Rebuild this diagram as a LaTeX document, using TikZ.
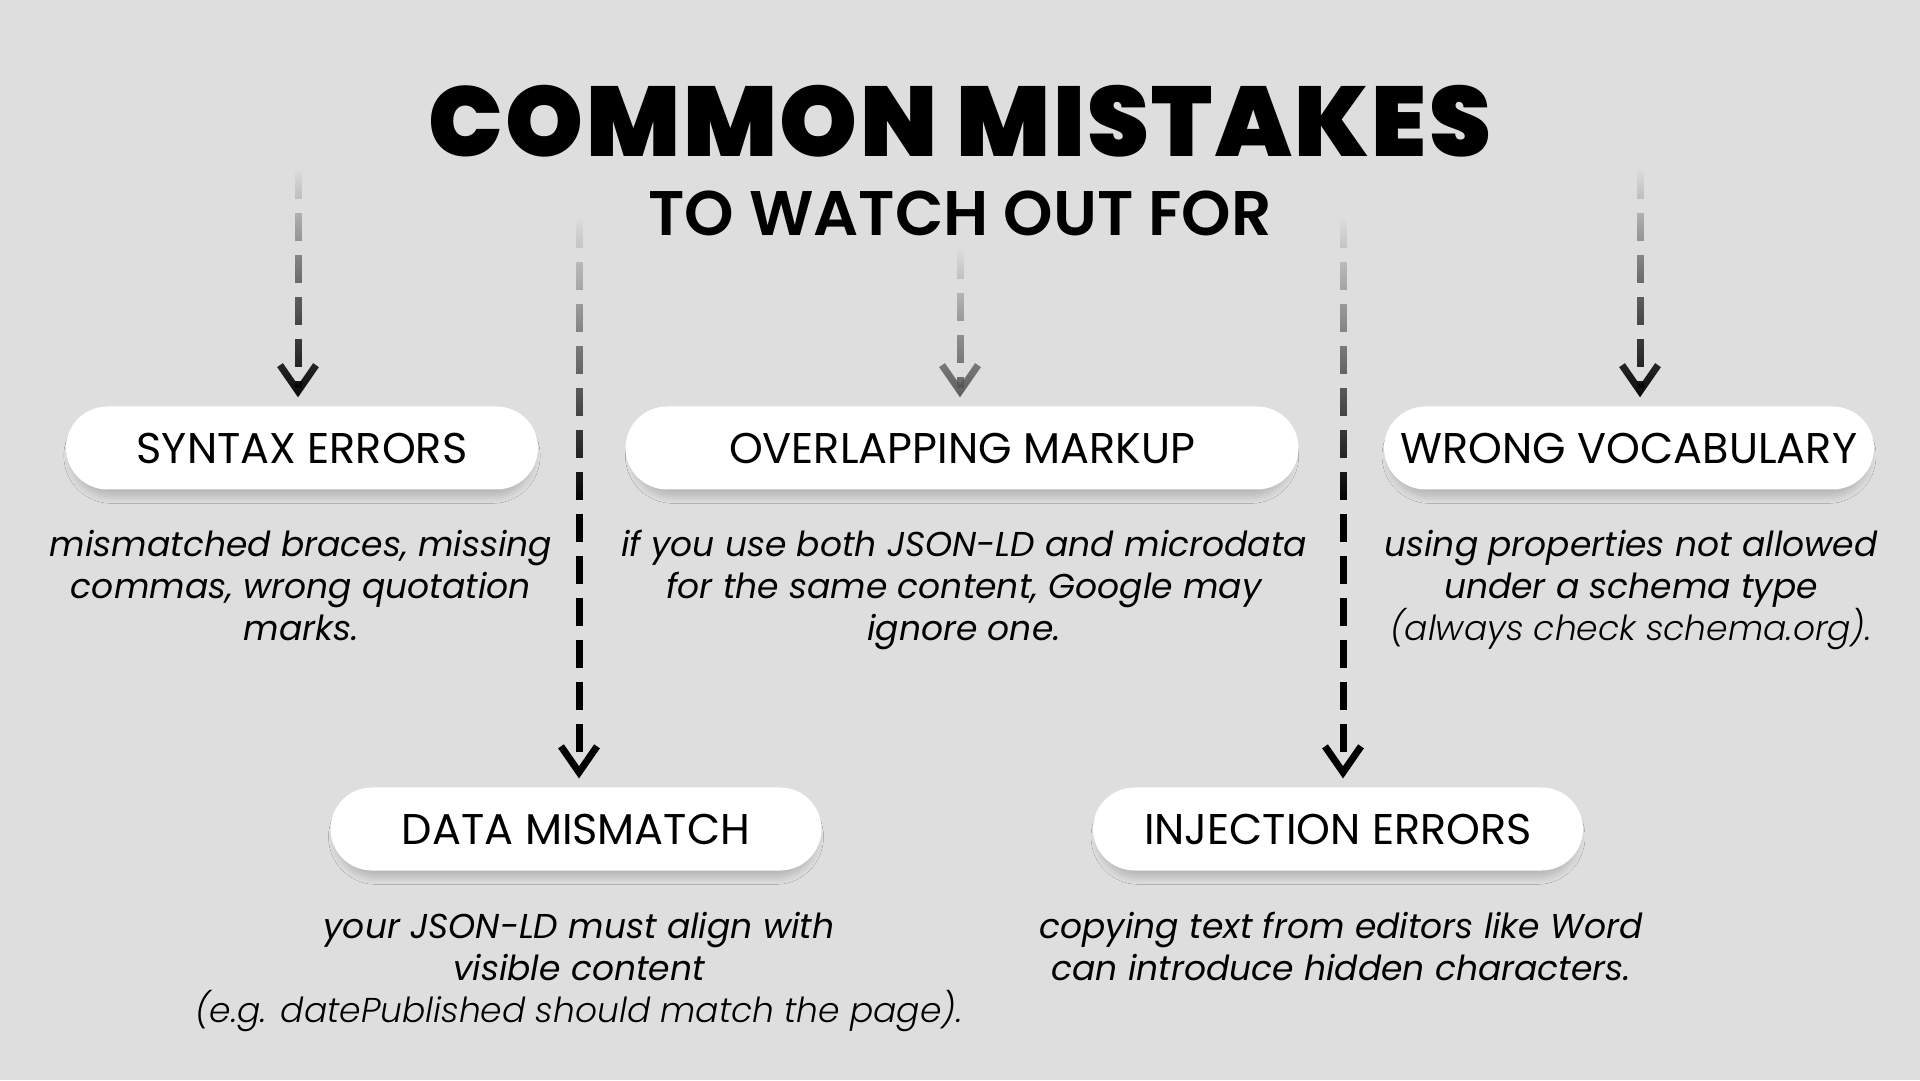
\documentclass[tikz,border=0pt]{standalone}
\usepackage{fontspec}
\setmainfont{Poppins}
\newfontfamily\ftitle{Poppins Black}[LetterSpace=2.5]
\newfontfamily\fsub{Poppins SemiBold}
\newfontfamily\fpill{Poppins}
\newfontfamily\fdesc{Poppins Italic}
\newfontfamily\flight{Poppins Light Italic}
\usetikzlibrary{arrows.meta,shapes.misc,shadows.blur,fadings}
\definecolor{bg}{HTML}{DEDEDE}
\definecolor{arrgray}{HTML}{555555}
\tikzfading[name=fadelong, top color=transparent!100, bottom color=transparent!0, middle color=transparent!0]
\tikzfading[name=fadeshort, top color=transparent!100, bottom color=transparent!0, middle color=transparent!45]
\begin{document}
\begin{tikzpicture}[x=1pt,y=1pt,
  pill/.style={rounded rectangle, fill=white, minimum height=83pt, inner sep=0pt,
    font=\fpill\fontsize{43}{50}\selectfont, text=black,
    blur shadow={shadow xshift=0pt, shadow yshift=-8pt, shadow scale=0.98,
      shadow blur radius=7pt, shadow blur steps=10, shadow opacity=18}},
  desc/.style={align=center, font=\fdesc\fontsize{34.5}{42}\selectfont, text=black, anchor=base, inner sep=0pt},
  arr/.style={dash pattern=on 28pt off 14pt, line width=7pt,
    -{Straight Barb[length=26pt, width=36pt]}, shorten >=9pt},
]
\useasboundingbox (0,0) rectangle (1920,1080);
\fill[bg] (0,0) rectangle (1920,1080);

\node[anchor=base, inner sep=0pt, font=\ftitle\fontsize{99}{99}\selectfont] (title) at (960,923) {COMMON MISTAKES};
\node[anchor=base, inner sep=0pt, font=\fsub\fontsize{63}{63}\selectfont] (sub) at (960,844) {TO WATCH OUT FOR};

\node[pill, minimum width=472pt] (syn) at (302,632) {SYNTAX ERRORS};
\node[pill, minimum width=673pt] (ovl) at (962,632) {OVERLAPPING MARKUP};
\node[pill, minimum width=490pt] (voc) at (1629,632) {WRONG VOCABULARY};
\node[pill, minimum width=491pt] (dat) at (576,251) {DATA MISMATCH};
\node[pill, minimum width=490pt] (inj) at (1338,251) {INJECTION ERRORS};

% anchor=base is the baseline of the last line
\node[desc] (dsyn) at (301,439) {mismatched braces, missing\\commas, wrong quotation\\marks.};
\node[desc] (dovl) at (964,439) {if you use both JSON-LD and microdata\\for the same content, Google may\\ignore one.};
\node[desc] (dvoc) at (1631,439) {using properties not allowed\\under a schema type\\{\flight (always check schema.org).}};
\node[desc] (ddat) at (579,58) {your JSON-LD must align with\\visible content\\{\flight (e.g. datePublished should match the page).}};
\node[desc] (dinj) at (1341,100) {copying text from editors like Word\\can introduce hidden characters.};

\coordinate (a1) at (298,909);
\coordinate (a2) at (579,860);
\coordinate (a3) at (960,829);
\coordinate (a4) at (1343,860);
\coordinate (a5) at (1640,909);
% the leading moves widen the path's box so that the fading covers the arrow tip
\draw[arr, black, path fading=fadeshort] ([xshift=-30pt]a1) ([xshift=30pt]a1) (a1) -- (a1 |- syn.north);
\draw[arr, black, path fading=fadelong] ([xshift=-30pt]a2) ([xshift=30pt]a2) (a2) -- (a2 |- dat.north);
\draw[arr, arrgray, path fading=fadeshort] ([xshift=-30pt]a3) ([xshift=30pt]a3) (a3) -- (a3 |- ovl.north);
\draw[arr, black, path fading=fadelong] ([xshift=-30pt]a4) ([xshift=30pt]a4) (a4) -- (a4 |- inj.north);
\draw[arr, black, path fading=fadeshort] ([xshift=-30pt]a5) ([xshift=30pt]a5) (a5) -- (a5 |- voc.north);
\end{tikzpicture}
\end{document}
